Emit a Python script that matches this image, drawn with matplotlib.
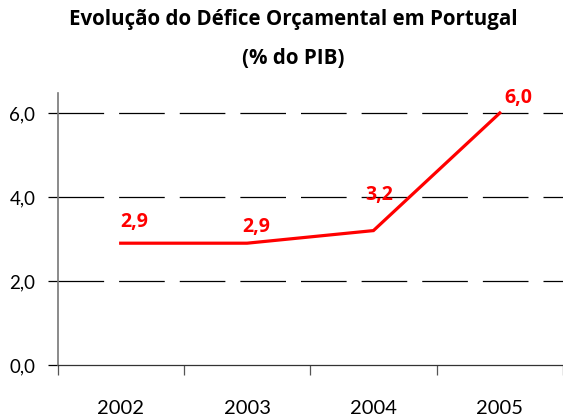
import matplotlib.pyplot as plt

plt.rcParams['font.family'] = ['Lato', 'DejaVu Sans']

years = ["2002", "2003", "2004", "2005"]
deficit = [2.9, 2.9, 3.2, 6.0]
value_labels = ["2,9", "2,9", "3,2", "6,0"]
yticks = [0, 2, 4, 6]
ytick_labels = ["0,0", "2,0", "4,0", "6,0"]

fig = plt.figure(figsize=(5.63, 4.18), dpi=100)
ax = fig.add_axes([57.5/563, 53/418, (563-57.5)/563, 272/418])

x = list(range(len(years)))
ax.plot(x, deficit, color="#ff0000", lw=2.3, solid_joinstyle="miter")

# label offsets in pixels (dx, dy)
offs = [(0, 21), (-5, 16), (-8, 36), (5, 15)]
for xi, v, lab, (dx, dy) in zip(x, deficit, value_labels, offs):
    ax.annotate(lab, (xi, v), xytext=(dx, dy), textcoords="offset pixels",
                ha="left", va="center", color="#ff0000",
                fontsize=14, fontweight="bold", family="Open Sans")

ax.set_xlim(-0.5, 3.48)
ax.set_ylim(0, 6.476)
ax.set_yticks(yticks)
ax.set_yticklabels(ytick_labels, fontsize=13.5)
for yv in yticks[1:]:
    ax.axhline(yv, color="black", lw=0.9, dashes=(36.5, 12), zorder=0)

# category axis: ticks between categories, labels centered
ax.set_xticks([-0.5, 0.5, 1.5, 2.5, 3.5])
ax.set_xticklabels([])
ax.set_xticks(x, minor=True)
ax.set_xticklabels(years, minor=True, fontsize=14.5)
ax.tick_params(axis="x", which="minor", length=0, pad=25)
ax.tick_params(axis="x", which="major", length=7, width=0.9, color="#555555")
ax.tick_params(axis="y", length=7, width=0.9, pad=9)

for s in ["top", "right"]:
    ax.spines[s].set_visible(False)
ax.spines["left"].set_color("#777777")
ax.spines["left"].set_linewidth(1.2)
ax.spines["bottom"].set_color("#333333")
ax.spines["bottom"].set_linewidth(0.9)

fig.text(293/563, 1 - 20/418, "Evolução do Défice Orçamental em Portugal",
         ha="center", va="center", fontsize=14.8, fontweight="bold",
         family="Open Sans")
fig.text(293/563, 1 - 58/418, "(% do PIB)",
         ha="center", va="center", fontsize=14.8, fontweight="bold",
         family="Open Sans")

fig.savefig("out.png", dpi=100)
